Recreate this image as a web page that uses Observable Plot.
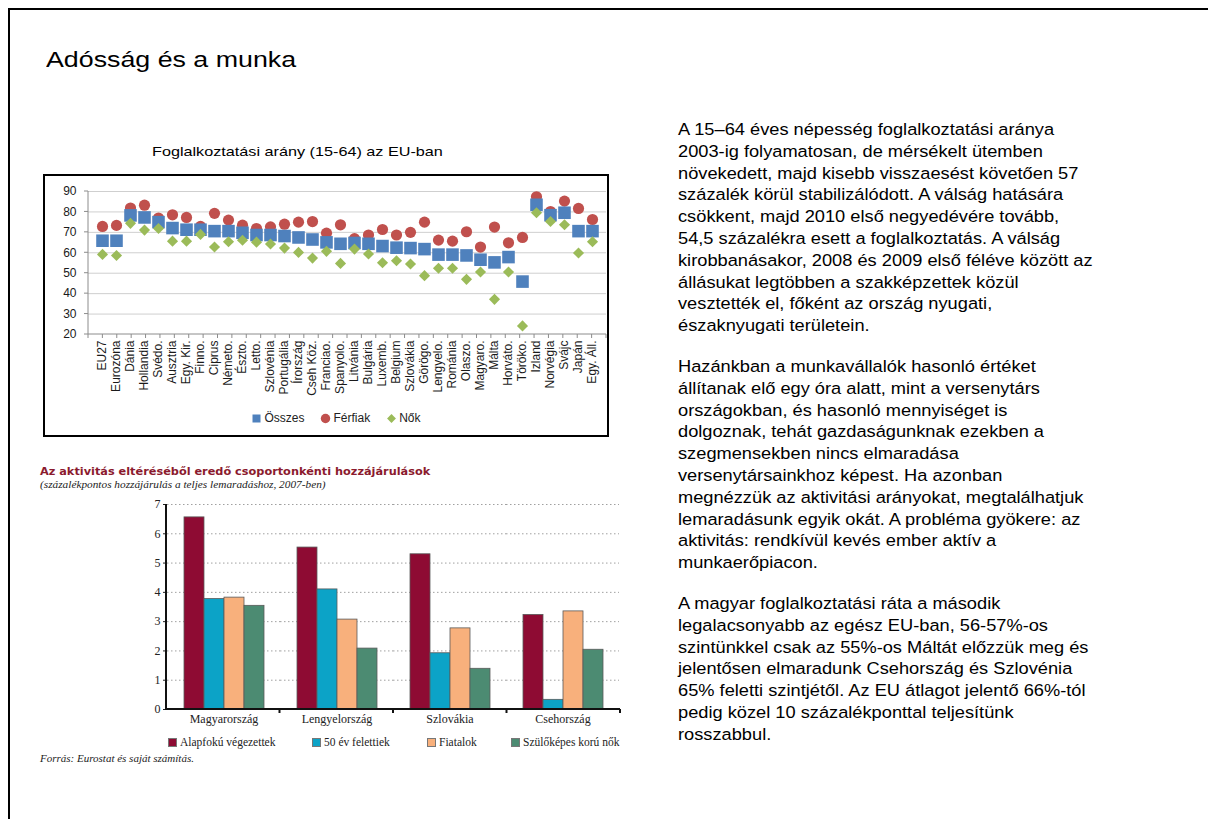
<!DOCTYPE html>
<html><head><meta charset="utf-8">
<script src="https://cdn.jsdelivr.net/npm/d3@7"></script>
<script src="https://cdn.jsdelivr.net/npm/@observablehq/plot@0.6"></script>
<style>
html,body{margin:0;padding:0;background:#fff;}
body{width:1208px;height:819px;position:relative;overflow:hidden;font-family:"Liberation Sans",Arial,sans-serif;color:#000;}
.abs{position:absolute;}
#frame{left:8px;top:8px;width:1400px;height:1000px;border:2px solid #000;}
#title{left:46px;top:47px;font-size:22.5px;white-space:nowrap;transform:scaleX(1.19);transform-origin:0 0;}
#c1title{left:152px;top:144px;font-size:13.5px;white-space:nowrap;transform:scaleX(1.2);transform-origin:0 0;}
#box1{left:43px;top:174px;width:562px;height:259px;border:2px solid #000;}
#box1 svg{position:absolute;left:0;top:0;}
#legend1{left:53px;width:566px;top:411px;display:flex;justify-content:center;gap:16px;font-size:12px;color:#222;}
#legend1 .it{display:flex;align-items:center;gap:2px;}
#c2title{left:40px;top:465px;font-family:"DejaVu Sans",Verdana,sans-serif;font-weight:bold;font-size:11.3px;color:#8B1A2E;white-space:nowrap;}
#c2sub{left:40px;top:478px;font-family:"Liberation Serif",serif;font-style:italic;font-size:11.3px;color:#222;white-space:nowrap;}
#c2{left:40px;top:494px;}
.lg2{position:absolute;top:736px;display:flex;align-items:center;gap:3px;font-family:"Liberation Serif",serif;font-size:11.5px;color:#222;white-space:nowrap;}
#source{left:40px;top:752px;font-family:"Liberation Serif",serif;font-style:italic;font-size:11px;color:#222;white-space:nowrap;}
#text{left:678px;top:119px;font-size:16.3px;line-height:21.8px;white-space:nowrap;color:#000;transform:scaleX(1.12);transform-origin:0 0;}
#text p{margin:0 0 19px 0;}
</style>
</head>
<body>
<div id="frame" class="abs"></div>
<div id="title" class="abs">Adósság és a munka</div>
<div id="c1title" class="abs">Foglalkoztatási arány (15-64) az EU-ban</div>
<div id="box1" class="abs"></div>
<div id="legend1" class="abs"></div>
<div id="c2title" class="abs">Az aktivitás eltéréséből eredő csoportonkénti hozzájárulások</div>
<div id="c2sub" class="abs">(százalékpontos hozzájárulás a teljes lemaradáshoz, 2007-ben)</div>
<div id="c2" class="abs"></div>
<div id="legend2"></div>
<div id="source" class="abs">Forrás: Eurostat és saját számítás.</div>
<div id="text" class="abs">
<p>A 15–64 éves népesség foglalkoztatási aránya<br>2003-ig folyamatosan, de mérsékelt ütemben<br>növekedett, majd kisebb visszaesést követően 57<br>százalék körül stabilizálódott. A válság hatására<br>csökkent, majd 2010 első negyedévére tovább,<br>54,5 százalékra esett a foglalkoztatás. A válság<br>kirobbanásakor, 2008 és 2009 első féléve között az<br>állásukat legtöbben a szakképzettek közül<br>vesztették el, főként az ország nyugati,<br>északnyugati területein.</p>
<p>Hazánkban a munkavállalók hasonló értéket<br>állítanak elő egy óra alatt, mint a versenytárs<br>országokban, és hasonló mennyiséget is<br>dolgoznak, tehát gazdaságunknak ezekben a<br>szegmensekben nincs elmaradása<br>versenytársainkhoz képest. Ha azonban<br>megnézzük az aktivitási arányokat, megtalálhatjuk<br>lemaradásunk egyik okát. A probléma gyökere: az<br>aktivitás: rendkívül kevés ember aktív a<br>munkaerőpiacon.</p>
<p>A magyar foglalkoztatási ráta a második<br>legalacsonyabb az egész EU-ban, 56-57%-os<br>szintünkkel csak az 55%-os Máltát előzzük meg és<br>jelentősen elmaradunk Csehország és Szlovénia<br>65% feletti szintjétől. Az EU átlagot jelentő 66%-tól<br>pedig közel 10 százalékponttal teljesítünk<br>rosszabbul.</p>
</div>
<script>
// ---------- Chart 1 data ----------
const categories = ["EU27","Eurozóna","Dánia","Hollandia","Svédo.","Ausztria","Egy. Kir.","Finno.","Ciprus","Németo.","Észto.","Letto.","Szlovénia","Portugália","Írország","Cseh Köz.","Franciao.","Spanyolo.","Litvánia","Bulgária","Luxemb.","Belgium","Szlovákia","Görögo.","Lengyelo.","Románia","Olaszo.","Magyaro.","Málta","Horváto.","Töröko.","Izland","Norvégia","Svájc","Japán","Egy. Áll."];
const osszes  = [65.9,65.9,78.3,77.3,75.0,72.1,71.3,71.3,70.6,70.6,69.8,68.7,68.7,68.2,67.5,66.5,65.1,64.4,64.8,64.4,63.3,62.5,62.3,61.8,59.1,59.1,58.7,56.6,55.3,57.9,45.9,83.5,78.4,79.6,70.6,70.6];
const ferfiak = [72.9,73.4,81.9,83.3,77.0,78.6,77.3,72.9,79.3,76.0,73.5,71.9,72.7,74.0,75.0,75.3,69.6,73.7,66.9,68.7,71.4,68.7,70.0,75.0,66.2,65.7,70.3,62.8,72.6,64.9,67.5,87.4,80.2,85.3,81.7,76.3];
const nok     = [59.2,58.7,74.4,71.1,71.9,65.7,65.7,69.0,62.8,65.4,66.1,65.2,64.3,62.3,60.2,57.4,60.7,54.8,61.8,59.4,55.1,56.1,54.5,48.8,52.4,52.4,47.0,50.6,37.2,50.6,24.2,79.6,75.3,73.7,59.9,65.4];
const series1 = ["Összes","Férfiak","Nők"];
const yTicks1 = [20,30,40,50,60,70,80,90];

// ---------- Chart 2 data ----------
const groups2 = ["Magyarország","Lengyelország","Szlovákia","Csehország"];
const series2 = ["Alapfokú végezettek","50 év felettiek","Fiatalok","Szülőképes korú nők"];
const alapfoku   = [6.56,5.53,5.30,3.23];
const felett50   = [3.77,4.10,1.92,0.33];
const fiatalok   = [3.82,3.07,2.77,3.35];
const szulokepes = [3.54,2.08,1.39,2.04];
const yTicks2 = [0,1,2,3,4,5,6,7];

// ---------- styles ----------
const colors1 = {"Összes":"#4F81BD","Férfiak":"#C0504D","Nők":"#9BBB59"};
const colors2 = ["#8E0B33","#0CA3C7","#F8B07C","#4C8B72"];
const legend2Left = [168,312,427,511];

// ---------- Chart 1 ----------
const rows1 = categories.map((c,i)=>({c, o:osszes[i], f:ferfiak[i], n:nok[i]}));
const c1 = Plot.plot({
  width:562, height:228, marginLeft:43, marginRight:1, marginTop:15, marginBottom:70,
  style:{fontFamily:"Liberation Sans, Arial, sans-serif", fontSize:"12px", color:"#1a1a1a", background:"transparent", overflow:"visible"},
  x:{domain:categories, padding:0, label:null, tickSize:0, tickPadding:6, tickRotate:-90},
  y:{domain:[20,90], ticks:yTicks1, label:null, tickSize:0, tickPadding:12},
  marks:[
    Plot.ruleY(yTicks1.slice(1), {stroke:"#cfcfcf"}),
    Plot.dot(rows1, {x:"c", y:"f", r:5.6, symbol:"circle", fill:colors1["Férfiak"]}),
    Plot.dot(rows1, {x:"c", y:"o", r:7.1, symbol:"square", fill:colors1["Összes"]}),
    Plot.dot(rows1, {x:"c", y:"n", r:5, symbol:"diamond2", fill:colors1["Nők"]})
  ]
});
{
  const xs = c1.scale("x"), ys = c1.scale("y");
  const [x0,x1] = xs.range, [y0,y1] = ys.range;
  const n = xs.domain.length, step = (x1-x0)/n;
  const g = d3.select(c1).append("g").attr("stroke","#8c8c8c").attr("stroke-width",1);
  g.append("line").attr("x1",x0).attr("x2",x0).attr("y1",y1).attr("y2",y0);
  g.append("line").attr("x1",x0).attr("x2",x1).attr("y1",y0).attr("y2",y0);
  yTicks1.forEach(t=>g.append("line").attr("x1",x0-4).attr("x2",x0).attr("y1",ys.apply(t)).attr("y2",ys.apply(t)));
  d3.range(n+1).forEach(i=>g.append("line").attr("x1",x0+i*step).attr("x2",x0+i*step).attr("y1",y0).attr("y2",y0+4));
}
document.getElementById("box1").appendChild(c1);

// legend 1
{
  const L = d3.select("#legend1");
  const sym = {"Összes":d3.symbolSquare,"Férfiak":d3.symbolCircle,"Nők":d3.symbolDiamond2};
  const size = {"Összes":64,"Férfiak":70,"Nők":50};
  series1.forEach(s=>{
    const it = L.append("div").attr("class","it");
    const sv = it.append("svg").attr("width",11).attr("height",11);
    sv.append("path").attr("transform","translate(5.5,5.5)").attr("d",d3.symbol(sym[s],size[s])()).attr("fill",colors1[s]);
    it.append("span").text(s);
  });
}

// ---------- Chart 2 ----------
const values2 = [alapfoku, felett50, fiatalok, szulokepes];
const rows2 = groups2.flatMap((g,i)=>series2.map((s,j)=>({g, s, v:values2[j][i]})));
const c2 = Plot.plot({
  width:585, height:237, marginLeft:126, marginRight:5, marginTop:10, marginBottom:22,
  style:{fontFamily:"Liberation Serif, serif", fontSize:"12px", color:"#222", background:"transparent", overflow:"visible"},
  facet:{data:rows2, x:"g"},
  fx:{domain:groups2, padding:0, label:null, tickSize:0, tickPadding:5, axis:"bottom"},
  x:{domain:series2, paddingInner:0, paddingOuter:0.77, axis:null},
  y:{domain:[0,7], ticks:yTicks2, tickFormat:d3.format("d"), label:null, tickSize:4, tickPadding:3},
  color:{domain:series2, range:colors2},
  marks:[
    Plot.ruleY(yTicks2.slice(1), {stroke:"#a0a0a0", strokeDasharray:"1.5,2.5"}),
    Plot.barY(rows2, {x:"s", y:"v", fill:"s", stroke:"#5a5a5a", strokeWidth:0.8})
  ]
});
{
  const fx = c2.scale("fx"), ys = c2.scale("y");
  const [x0,x1] = fx.range, [y0,y1] = ys.range;
  const n = fx.domain.length, step = (x1-x0)/n;
  const g = d3.select(c2).append("g").attr("stroke","#111").attr("stroke-width",2);
  g.append("line").attr("x1",x0).attr("x2",x0).attr("y1",y1).attr("y2",y0+1);
  g.append("line").attr("x1",x0-1).attr("x2",x1).attr("y1",y0).attr("y2",y0);
  d3.range(1,n+1).forEach(i=>g.append("line").attr("x1",x0+i*step).attr("x2",x0+i*step).attr("y1",y0).attr("y2",y0+4));
}
document.getElementById("c2").appendChild(c2);

// legend 2
{
  const L = d3.select("#legend2");
  series2.forEach((s,j)=>{
    const it = L.append("div").attr("class","lg2").style("left",legend2Left[j]+"px");
    it.append("span").style("display","inline-block").style("width","7px").style("height","7px")
      .style("background",colors2[j]).style("border","1px solid #777");
    it.append("span").text(s);
  });
}
</script>
</body></html>
